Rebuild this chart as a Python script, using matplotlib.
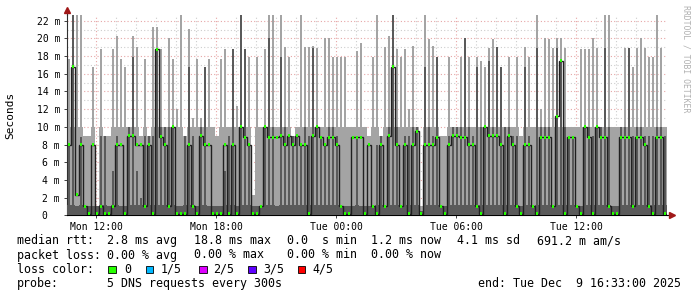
import numpy as np
import matplotlib.pyplot as plt
from matplotlib.patches import Rectangle

# SmokePing DNS latency, Mon 10:33 -> Tue 16:33, one column = 12 minutes
# hi  = top of the outer (light) smoke band, ms
# dk  = top of the inner (dark) smoke band, ms
# med = median rtt of the column, ms
hi = [
    17.7, 22.6, 22.6, 22.6, 9, 9, 16.8, 1, 18.8, 9,
    9, 18.8, 20.3, 17.7, 16.8, 10, 20.3, 19.05, 9, 17.7,
    9, 21.3, 21.3, 18.8, 10, 20.1, 17.7, 12, 22.6, 9,
    21.1, 11, 17.7, 11, 16.8, 17.7, 10, 9, 17.7, 18.8,
    10, 18.8, 12.4, 22.6, 18.8, 17.9, 2.3, 17.9, 10, 18.8,
    22.6, 22.6, 10, 22.6, 19.05, 17.9, 9, 10, 22.6, 19.05,
    19.05, 19.2, 18.9, 10, 20.1, 20.1, 17.9, 17.9, 17.9, 17.9,
    10, 10, 18.6, 19.5, 10, 9, 17.9, 22.6, 9, 19.05,
    20.3, 22.6, 18.8, 17.9, 18.8, 12, 19.2, 10, 1, 22.6,
    19.9, 19.2, 17.9, 9, 9, 17.9, 10, 10, 17.9, 20.1,
    17.9, 10, 17.9, 17.5, 16.8, 18.9, 19.9, 19.05, 16.8, 10,
    17.9, 10, 17.9, 9, 19.05, 17.9, 10, 22.6, 12, 20.1,
    19.9, 18.9, 20.1, 20.1, 18.9, 10, 10, 10, 18.8, 18.8,
    18.8, 20.1, 18.9, 10, 22.6, 22.6, 10, 10, 10, 18.9,
    18.9, 16.8, 18.9, 20.1, 18.9, 17.9, 17.9, 22.6, 18.9, 10,
]
dk = [
    8, 22.6, 1, 8.9, 1, 1, 1, 1, 9, 9,
    1, 5, 9, 1, 1, 10, 17.9, 5, 2, 9,
    9, 9, 18.8, 10, 10, 10, 10, 1, 1, 9,
    16.8, 9, 1, 10, 16.8, 1, 1, 1, 1, 5,
    9, 18.8, 1, 22.6, 18.8, 8, 1, 1, 1, 10,
    20.1, 10, 1, 17.9, 10, 9, 9, 9, 8, 10,
    9, 18.9, 10, 9, 8, 10, 10, 9, 1, 1,
    1, 1, 9, 1, 1, 1, 1, 8, 9, 1,
    10, 22.6, 10, 1, 9, 9, 10, 10, 0.5, 16.8,
    10, 9, 17.9, 1, 1, 9, 10, 10, 10, 20.1,
    10, 9, 16.8, 10, 10, 17.5, 10, 19.05, 16.8, 10,
    10, 9, 9, 1, 16.8, 9, 1, 18.9, 10, 10,
    10, 1, 18.9, 17.5, 10, 9, 9, 1, 1, 10,
    10, 9, 10, 10, 18.9, 10, 1, 1, 10, 10,
    18.9, 9, 10, 10, 9, 9, 9, 10, 10, 9,
]
med = [
    8, 16.8, 2.3, 8, 1, 0.2, 8, 0.2, 1, 0.2,
    0.2, 1, 8, 8, 0.2, 9, 9, 8, 8, 1,
    8, 0.2, 18.8, 8.9, 8, 1, 10, 0.2, 0.2, 0.2,
    8, 1, 0.2, 9, 8, 8, 0.2, 0.2, 0.2, 8,
    0.2, 8, 0.2, 10, 8.8, 8, 0.2, 0.2, 1, 10,
    8.8, 8.8, 8.8, 9, 8, 9, 8, 9, 8, 8,
    0.2, 9, 10, 8.8, 8, 8.8, 8.8, 8, 1, 0.2,
    0.2, 8.8, 8.8, 8.8, 0.2, 8, 1, 0.2, 8, 1,
    9, 16.8, 8, 1, 8, 0.2, 8, 9.5, 0.2, 8,
    8, 8, 8.8, 1, 0.2, 8, 9, 9, 8.8, 8.8,
    8, 8, 1, 0.2, 10, 9, 9, 9, 8, 0.2,
    9, 8, 1, 0.2, 8, 8, 1, 0.2, 8.8, 8.8,
    8.8, 1, 11.2, 17.5, 0.2, 8.8, 8.8, 1, 0.2, 10,
    8.8, 0.2, 10, 8.8, 8.8, 1, 0.2, 0.2, 8.8, 8.8,
    8.8, 1, 8.8, 8.8, 8, 1, 0.2, 8.8, 8.8, 0.2,
]

# x axis in hours since Mon 10:33
tick_hours = [1.45, 7.45, 13.45, 19.45, 25.45]
tick_names = ["Mon 12:00", "Mon 18:00", "Tue 00:00", "Tue 06:00", "Tue 12:00"]

legend_rows = [
    [(16.7, "median rtt:"), (107.3, "2.8 ms avg"), (194, "18.8 ms max"),
     (286.7, "0.0  s min"), (371, "1.2 ms now"), (457.3, "4.1 ms sd"),
     (537.3, "691.2 m am/s")],
    [(16.7, "packet loss:"), (107.3, "0.00 % avg"), (194, "0.00 % max"),
     (286.7, "0.00 % min"), (371, "0.00 % now")],
    [(16.7, "loss color:")],
    [(16.7, "probe:"), (107.3, "5 DNS requests every 300s"),
     (478.3, "end: Tue Dec  9 16:33:00 2025")],
]
loss_labels = ["0", "1/5", "2/5", "3/5", "4/5"]
loss_colors = ["#26ff00", "#00b8ff", "#dd00ff", "#5e00ff", "#ff0000"]

hi = np.array(hi)
dk = np.array(dk)
med = np.array(med)
step = 0.2
edges = np.arange(len(med) + 1) * step
xc = edges[:-1] + step / 2

mono = "DejaVu Sans Mono"
light = "#a4a4a4"
dark = "#5a5a5a"

fig = plt.figure(figsize=(6.97, 2.97), dpi=100)
fig.patch.set_facecolor("white")
ax = fig.add_axes([67 / 697, (297 - 215.3) / 297, 600 / 697, 200.3 / 297])

# outer smoke: wide band up to ~10 ms, narrow spikes above
ax.bar(xc, np.minimum(hi, 10), width=step, color=light, linewidth=0, antialiased=False, zorder=2)
ax.bar(xc, hi, width=step * 0.55, color=light, linewidth=0, antialiased=False, zorder=2)
# inner smoke: full width near the floor, striped above
ax.bar(xc, np.minimum(dk, 1.2), width=step, color=dark, linewidth=0, antialiased=False, zorder=3)
ax.bar(xc, dk, width=step * 0.45, color=dark, linewidth=0, antialiased=False, zorder=3)

# median line and loss-coloured markers
ax.stairs(med, edges, baseline=None, color="#202020", linewidth=1.0, zorder=4)
ax.bar(xc, 0.34, bottom=med - 0.17, width=step * 0.6, color=loss_colors[0], linewidth=0,
       antialiased=False, zorder=5)

ax.set_xlim(0, 30)
ax.set_ylim(0, 22.65)

ax.set_xticks(tick_hours)
ax.set_xticklabels(tick_names)
ax.set_xticks(np.arange(0.45, 30, 1.0), minor=True)
yt = np.arange(0, 23, 2)
ax.set_yticks(yt)
ax.set_yticklabels(["0  "] + [f"{v} m" for v in yt[1:]])
ax.set_yticks(np.arange(1, 23, 2), minor=True)

ax.grid(which="major", color="#e6a6a6", linestyle=(0, (1, 2)), linewidth=0.8)
ax.grid(which="minor", color="#cdcdcd", linestyle=(0, (1, 2)), linewidth=0.8)
ax.set_axisbelow(True)

ax.tick_params(which="major", length=2, width=0.7, pad=3, labelsize=7, color="#404040")
ax.tick_params(which="minor", length=0)
for lab in ax.get_xticklabels() + ax.get_yticklabels():
    lab.set_family(mono)

for s in ["top", "right"]:
    ax.spines[s].set_visible(False)
ax.spines["left"].set_color("#303030")
ax.spines["bottom"].set_color("#000000")
ax.spines["left"].set_linewidth(0.8)
ax.spines["bottom"].set_linewidth(0.8)

# axis arrows
ax.plot([0, 0], [1, 1.025], transform=ax.transAxes, color="#303030", lw=0.8, clip_on=False)
ax.plot([1, 1.006], [0, 0], transform=ax.transAxes, color="#000000", lw=0.8, clip_on=False)
ax.plot([0], [1.025], marker="^", markersize=4, color="#a01818", transform=ax.transAxes, clip_on=False)
ax.plot([1.008], [0], marker=">", markersize=4, color="#a01818", transform=ax.transAxes, clip_on=False)

# overlay in pixel coordinates for legend texts
ov = fig.add_axes([0, 0, 1, 1])
ov.set_xlim(0, 697)
ov.set_ylim(297, 0)
ov.axis("off")

ov.text(10, 115, "Seconds", rotation=90, ha="center", va="center", fontsize=8, family=mono)
ov.text(686, 5, "RRDTOOL / TOBI OETIKER", rotation=270, ha="center", va="top",
        fontsize=5.9, family=mono, color="#b0b0b0")

baselines = [244.3, 258.5, 272.7, 287.0]
for row, yb in zip(legend_rows, baselines):
    for xpos, txt in row:
        ov.text(xpos, yb, txt, ha="left", va="baseline", fontsize=8.4, family=mono)

sq_x = [108.3, 145.7, 199.3, 248.3, 297.7]
lab_x = [124, 160.7, 213.3, 263.3, 312.7]
for sx, lx, lab, col in zip(sq_x, lab_x, loss_labels, loss_colors):
    ov.add_patch(Rectangle((sx, 265.7), 7.5, 7.5, facecolor=col, edgecolor="#000000", linewidth=0.6))
    ov.text(lx, baselines[2], lab, ha="left", va="baseline", fontsize=8.4, family=mono)

fig.savefig("out.png", dpi=100)
